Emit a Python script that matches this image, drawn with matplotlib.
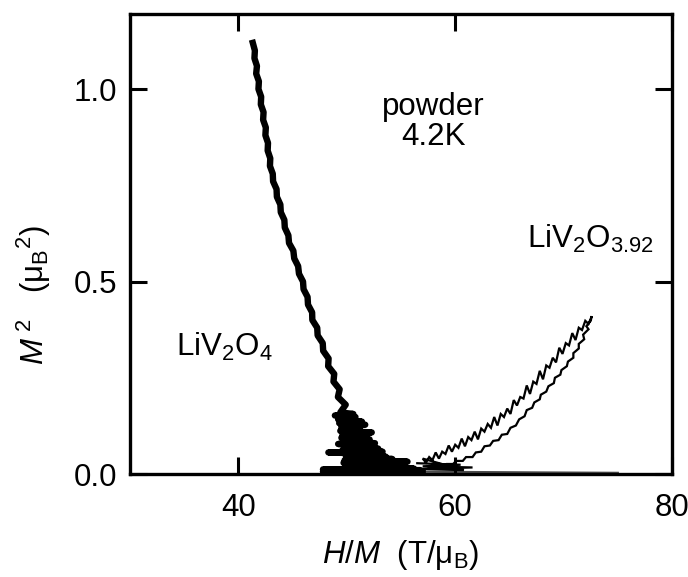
import matplotlib
matplotlib.use('Agg')
import matplotlib.pyplot as plt

# ---- data ----
# LiV2O4: M^2 vs H/M, noisy band
liv2o4_hm = [41.33, 41.52, 41.48, 41.71, 41.64, 41.89, 41.85, 42.10, 42.07, 42.32,
             42.28, 42.53, 42.49, 42.73, 42.70, 42.94, 42.91, 43.17, 43.20, 43.52,
             43.55, 43.87, 43.91, 44.24, 44.28, 44.61, 44.67, 45.07, 45.15, 45.51,
             45.59, 45.96, 46.01, 46.38, 46.42, 46.80, 46.82, 47.27, 47.31, 47.78,
             47.82, 48.32, 48.28, 48.84, 48.77, 49.34, 49.18, 49.90, 49.40,
             50.6, 48.9, 50.8, 49.2, 51.4, 49.3, 51.7, 49.5, 51.2, 49.4,
             52.3, 49.6, 51.8, 49.5, 52.1, 49.7, 52.6, 49.2, 52.4, 49.8,
             52.9, 49.6, 53.3, 48.3, 52.8, 49.9, 53.6, 50.0, 54.2, 49.8,
             55.6, 49.7, 54.8, 50.2, 55.2, 49.8, 56.2, 47.8, 56.8, 47.8, 57.0]
liv2o4_m2 = [1.120, 1.100, 1.080, 1.060, 1.040, 1.020, 1.000, 0.980, 0.960, 0.940,
             0.920, 0.900, 0.880, 0.860, 0.840, 0.820, 0.800, 0.780, 0.760, 0.740,
             0.720, 0.700, 0.680, 0.660, 0.640, 0.620, 0.600, 0.580, 0.560, 0.540,
             0.520, 0.500, 0.480, 0.460, 0.440, 0.420, 0.400, 0.380, 0.360, 0.340,
             0.320, 0.300, 0.280, 0.260, 0.240, 0.220, 0.200, 0.180, 0.160,
             0.156, 0.152, 0.148, 0.142, 0.136, 0.132, 0.128, 0.122, 0.118, 0.112,
             0.108, 0.102, 0.098, 0.094, 0.090, 0.086, 0.080, 0.078, 0.074, 0.070,
             0.066, 0.062, 0.058, 0.056, 0.052, 0.048, 0.045, 0.042, 0.039, 0.036,
             0.032, 0.029, 0.026, 0.023, 0.020, 0.017, 0.014, 0.012, 0.010, 0.006, 0.005]

# LiV2O3.92: low-field scribble, up-sweep branch, down-sweep branch
liv2o392_hm = [56.5, 60.5, 57.0, 61.6, 56.8, 60.8, 57.0,
               57.3, 57.6, 57.9, 58.2, 58.5, 58.8, 59.1, 59.4, 59.7, 60.0,
               60.3, 60.6, 60.9, 61.2, 61.5, 61.8, 62.1, 62.4, 62.7, 63.0,
               63.3, 63.6, 63.9, 64.2, 64.5, 64.8, 65.1, 65.4, 65.7, 66.0,
               66.3, 66.6, 66.9, 67.2, 67.5, 67.8, 68.1, 68.4, 68.7, 69.0,
               69.3, 69.6, 69.9, 70.2, 70.5, 70.8, 71.1, 71.4, 71.7, 72.0,
               72.3, 72.6,
               72.5, 72.1, 72.3, 71.8, 71.9, 71.4, 71.4, 70.9, 70.9, 70.4,
               70.3, 69.8, 69.7, 69.2, 69.1, 68.6, 68.4, 67.9, 67.8, 67.3,
               67.1, 66.6, 66.4, 65.9, 65.6, 65.1, 64.8, 64.3, 64.0, 63.5,
               63.2, 62.7, 62.4, 61.9, 61.6, 61.0, 60.7, 60.1, 59.8, 59.2,
               58.8, 58.0, 57.6]
liv2o392_m2 = [0.028, 0.024, 0.020, 0.017, 0.013, 0.010, 0.040,
               0.030, 0.044, 0.036, 0.056, 0.040, 0.058, 0.052, 0.074, 0.058, 0.076,
               0.068, 0.092, 0.072, 0.096, 0.088, 0.110, 0.090, 0.118, 0.110, 0.130,
               0.120, 0.148, 0.126, 0.156, 0.148, 0.170, 0.156, 0.192, 0.178, 0.200,
               0.196, 0.230, 0.208, 0.240, 0.234, 0.268, 0.246, 0.282, 0.276, 0.302,
               0.290, 0.328, 0.312, 0.340, 0.334, 0.366, 0.348, 0.380, 0.374, 0.398,
               0.390, 0.410,
               0.398, 0.384, 0.376, 0.362, 0.350, 0.338, 0.326, 0.314, 0.302, 0.292,
               0.280, 0.270, 0.258, 0.250, 0.236, 0.228, 0.214, 0.206, 0.194, 0.186,
               0.172, 0.166, 0.150, 0.142, 0.126, 0.120, 0.104, 0.102, 0.088, 0.086,
               0.074, 0.072, 0.058, 0.056, 0.044, 0.044, 0.034, 0.034, 0.026, 0.026,
               0.020, 0.020, 0.015]

# nearly-flat trace just above the axis
base_hm = [56.0, 62.0, 68.0, 75.0]
base_m2 = [0.006, 0.005, 0.004, 0.003]

x_ticks = [40, 60, 80]
y_ticks = [0.0, 0.5, 1.0]
y_ticklabels = ['0.0', '0.5', '1.0']

plt.rcParams['font.family'] = ['Liberation Sans', 'DejaVu Sans']
plt.rcParams['mathtext.fontset'] = 'custom'
plt.rcParams['mathtext.rm'] = 'Liberation Sans'
plt.rcParams['mathtext.it'] = 'Liberation Sans:italic'
plt.rcParams['mathtext.bf'] = 'Liberation Sans:bold'

FS = 22.5
W, H = 688, 577
fig = plt.figure(figsize=(W / 100, H / 100), dpi=100)
ax = fig.add_axes([130 / W, 1 - 474 / H, (672 - 130) / W, (474 - 14) / H])

ax.plot(base_hm, base_m2, color='black', lw=1.6, alpha=0.7)
ax.plot(liv2o4_hm, liv2o4_m2, color='black', lw=4.6, solid_joinstyle='round')
ax.plot(liv2o392_hm, liv2o392_m2, color='black', lw=1.6, solid_joinstyle='miter')

ax.set_xlim(30, 80)
ax.set_ylim(0, 1.195)
ax.set_xticks(x_ticks)
ax.set_yticks(y_ticks)
ax.set_yticklabels(y_ticklabels)
ax.tick_params(direction='in', length=12, width=2.2, top=True, right=True,
               labelsize=FS)
ax.tick_params(axis='x', pad=14)
ax.tick_params(axis='y', pad=9)
for s in ax.spines.values():
    s.set_linewidth(2.4)

fig.text(401 / W, 1 - 563 / H, r'$\mathit{H/M}$  (T/$\mathrm{\mu}_{\mathrm{B}}$)',
         fontsize=FS, ha='center', va='baseline')
fig.text(34 / W, 1 - 295 / H,
         r'$\mathit{M}^{\;2}$   ($\mathrm{\mu}_{\mathrm{B}}{}^{2}$)',
         fontsize=FS, ha='center', va='center', rotation=90)

ax.text(58.0, 0.933, 'powder', ha='center', va='baseline', fontsize=FS)
ax.text(58.0, 0.855, '4.2K', ha='center', va='baseline', fontsize=FS)
ax.text(34.2, 0.33, r'LiV$_2$O$_4$', ha='left', va='center', fontsize=FS)
ax.text(66.6, 0.61, r'LiV$_2$O$_{3.92}$', ha='left', va='center', fontsize=FS)

fig.savefig('out.png', dpi=100)
